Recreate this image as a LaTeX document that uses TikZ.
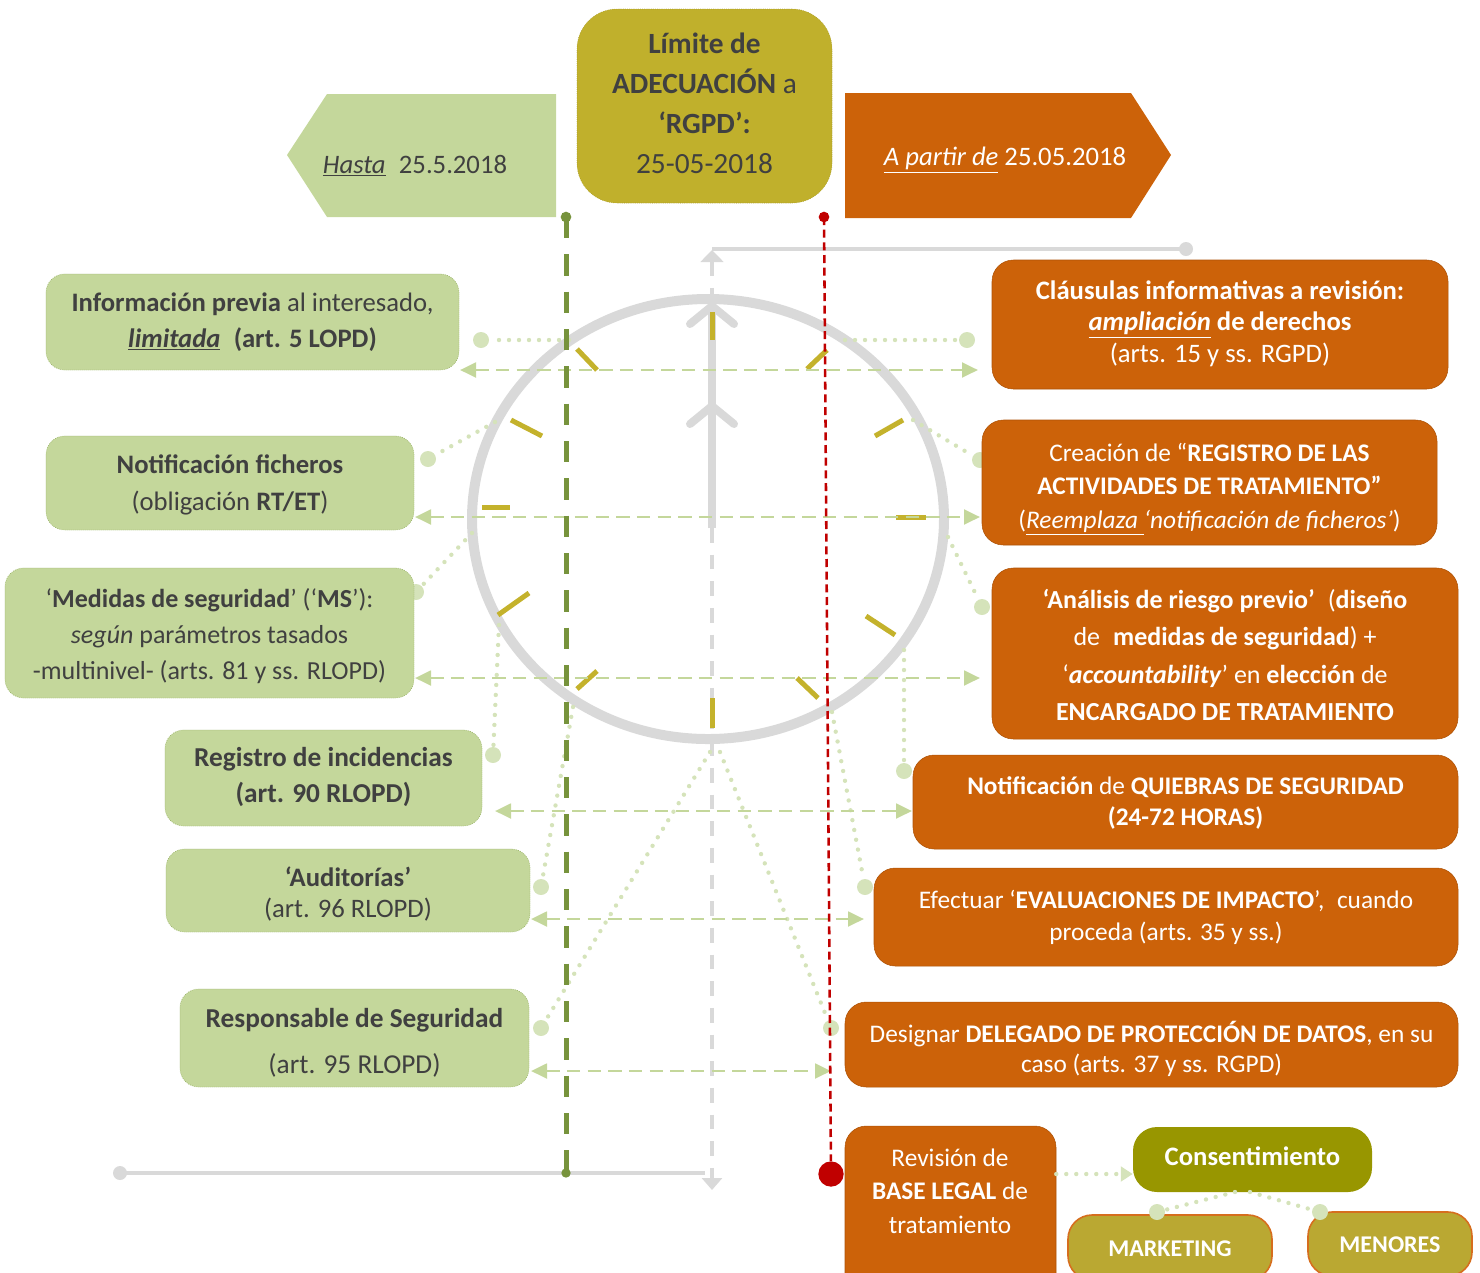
\documentclass[tikz,border=0pt]{standalone}
\usepackage{fontspec}
\setmainfont{Carlito}
\usetikzlibrary{arrows.meta,fit}
\definecolor{lgreen}{RGB}{196,215,155}
\definecolor{lgreenB}{RGB}{150,175,100}
\definecolor{dotc}{RGB}{213,227,186}
\definecolor{olivebox}{RGB}{192,176,44}
\definecolor{tickc}{RGB}{196,178,44}
\definecolor{orng}{RGB}{204,98,9}
\definecolor{consc}{RGB}{152,150,0}
\definecolor{mkc}{RGB}{186,168,50}
\definecolor{mkb}{RGB}{214,110,30}
\definecolor{ggray}{RGB}{217,217,217}
\definecolor{dgreen}{RGB}{119,147,60}
\definecolor{dred}{RGB}{192,0,0}
\definecolor{txt}{RGB}{64,64,64}
\newcommand\fsz[2]{\fontsize{#1}{#2}\selectfont}
\tikzset{
  lbox/.style={fill=lgreen, draw=lgreenB, densely dotted, line width=0.5pt, rounded corners=14pt, inner sep=0pt},
  rbox/.style={fill=orng, draw=orng!85!black, line width=0.4pt, rounded corners=16pt, inner sep=0pt},
  ltext/.style={align=center, text=txt, inner sep=0pt},
  rtext/.style={align=center, text=white, inner sep=0pt},
  enddot/.style={circle, fill=dotc, minimum size=12pt, inner sep=0pt},
  dotline/.style={dotc, line width=3.3pt, dash pattern=on 0pt off 7.5pt, line cap=round},
  darrow/.style={lgreen, line width=2.2pt, dash pattern=on 10pt off 5.5pt, {Triangle[length=12pt,width=11pt]}-{Triangle[length=12pt,width=11pt]}},
  tickm/.style={tickc, line width=3.75pt},
  gdot/.style={circle, fill=ggray, minimum size=10.5pt, inner sep=0pt},
}
\begin{document}
\begin{tikzpicture}[x=0.75pt,y=-0.75pt]
\useasboundingbox (0,0) rectangle (1480,1272);

% ---------- top shapes ----------
\fill[lgreen] (287,155) -- (327,94) -- (556,94) -- (556,217) -- (327,217) -- cycle;
\node[text=txt, font=\fsz{20}{24}] (hasta) at (415,166) {\underline{\textit{Hasta}}\enspace 25.5.2018};
\node[fill=olivebox, draw=olivebox!85!black, densely dotted, line width=0.4pt, rounded corners=30pt, inner sep=0pt, fit={(577,9)(832,203)}] (lim) {};
\node[ltext, font=\fsz{22}{30}] (limt) at (704.5,103)
  {\textbf{Límite de}\\ \textbf{ADECUACIÓN} a\\ \textbf{‘RGPD’:}\\ 25-05-2018};
\fill[orng] (845,93) -- (1131,93) -- (1171,155) -- (1131,218) -- (845,218) -- cycle;
\node[text=white, font=\fsz{20}{24}] (apartir) at (1005,160) {\underline{\textit{A partir de}} 25.05.2018};

% ---------- gray clock ----------
\node[gdot] (gtr) at (1186,249) {};
\coordinate (gtl) at (712,249);
\draw[ggray, line width=3pt] (gtl) -- (gtr.center);
\node[gdot] (gbl) at (120,1173) {};
\coordinate (gbr) at (705,1173);
\draw[ggray, line width=3pt] (gbl.center) -- (gbr);
\coordinate (gvt) at (712,250);
\coordinate (gvb) at (712,1190);
\draw[ggray, line width=3pt, dash pattern=on 11pt off 9pt, {Triangle[length=9pt,width=17pt]}-{Triangle[length=9pt,width=15pt]}] (gvt) -- (gvb);
\coordinate (cc) at (708,519);
\draw[ggray, line width=7.5pt] (cc) ellipse [x radius=177pt, y radius=165pt];
\draw[ggray, line width=6pt] (712,528) -- (712,306);
\draw[ggray, line width=6pt, line cap=round, line join=round] (690,324) -- (712,306) -- (734,324);
\draw[ggray, line width=6pt, line cap=round, line join=round] (690,424) -- (712,406) -- (734,424);
% ticks
\draw[tickm] (712,312) -- (712,340);
\draw[tickm] (807,369) -- (827,350);
\draw[tickm] (875,436) -- (903,420);
\draw[tickm] (896,517) -- (926,517);
\draw[tickm] (866,616) -- (895,635);
\draw[tickm] (797,678) -- (818,698);
\draw[tickm] (712,698) -- (712,728);
\draw[tickm] (577,689) -- (597,671);
\draw[tickm] (498,615) -- (529,593);
\draw[tickm] (482,507) -- (510,507);
\draw[tickm] (511,420) -- (542,436);
\draw[tickm] (577,349) -- (597,370);

% ---------- dotted connectors ----------
\coordinate (rL1) at (569,340); \coordinate (rR1) at (845,340);
\coordinate (rL2) at (495,422); \coordinate (rR2) at (913,420);
\coordinate (rL3) at (472,533); \coordinate (rR3) at (948,537);
\coordinate (rL4) at (499,625); \coordinate (rR4) at (904,650);
\coordinate (rL5) at (573,707); \coordinate (rR5) at (832,712);
\coordinate (rL6) at (710,752); \coordinate (rR6) at (720,752);
\node[enddot] (dL1) at (481,340) {};  \node[enddot] (dR1) at (967,340) {};
\node[enddot] (dL2) at (428,459) {};  \node[enddot] (dR2) at (980,460) {};
\node[enddot] (dL3) at (416,592) {};  \node[enddot] (dR3) at (982,607) {};
\node[enddot] (dL4) at (493,755) {};  \node[enddot] (dR4) at (904,771) {};
\node[enddot] (dL5) at (541,887) {};  \node[enddot] (dR5) at (865,887) {};
\node[enddot] (dL6) at (541,1028) {}; \node[enddot] (dR6) at (831,1028) {};
\foreach \i in {1,...,6}{
  \draw[dotline] (rL\i) -- (dL\i);
  \draw[dotline] (rR\i) -- (dR\i);
}

% ---------- dashed double arrows ----------
\coordinate (a1l) at (460,370);  \coordinate (a1r) at (978,370);
\coordinate (a2l) at (415,517);  \coordinate (a2r) at (980,517);
\coordinate (a3l) at (415,678);  \coordinate (a3r) at (980,678);
\coordinate (a4l) at (495,811);  \coordinate (a4r) at (912,811);
\coordinate (a5l) at (531,919);  \coordinate (a5r) at (864,919);
\coordinate (a6l) at (531,1071); \coordinate (a6r) at (831,1071);
\foreach \i in {1,...,6}{ \draw[darrow] (a\i l) -- (a\i r); }

% ---------- vertical time lines ----------
\node[circle, fill=dgreen, minimum size=8pt, inner sep=0pt] (gt) at (566,217) {};
\node[circle, fill=dgreen, minimum size=7pt, inner sep=0pt] (gb) at (566,1173) {};
\draw[dgreen, line width=3.75pt, dash pattern=on 16pt off 12pt] (gt.center) -- (gb.center);
\node[circle, fill=dred, minimum size=8pt, inner sep=0pt] (rt) at (824,217) {};
\node[circle, fill=dred, minimum size=19pt, inner sep=0pt] (rb) at (831,1174) {};
\draw[dred, line width=1.9pt, dash pattern=on 6pt off 3.5pt] (rt.center) -- (rb);

% ---------- left boxes ----------
\node[lbox, fit={(46,274)(459,370)}] (b1) {};
\node[ltext, font=\fsz{20}{27}] (b1t) at (252.5,322)
  {\textbf{Información previa} al interesado,\\ \textbf{\underline{\textit{limitada}}}\enspace\textbf{(art. 5 LOPD)}};
\node[lbox, fit={(46,436)(414,530)}] (b2) {};
\node[ltext, font=\fsz{20}{27.5}] (b2t) at (230,485)
  {\textbf{Notificación ficheros}\\ (obligación \textbf{RT/ET})};
\node[lbox, fit={(5,568)(414,698)}] (b3) {};
\node[ltext, font=\fsz{19.5}{27}] (b3t) at (209.5,636)
  {‘\textbf{Medidas de seguridad}’ (‘\textbf{MS}’):\\ \textit{según} parámetros tasados\\ -multinivel- (arts. 81 y ss. RLOPD)};
\node[lbox, fit={(165,730)(482,826)}] (b4) {};
\node[ltext, font=\fsz{20.5}{27.5}] (b4t) at (323.5,777)
  {\textbf{Registro de incidencias}\\ \textbf{(art. 90 RLOPD)}};
\node[lbox, fit={(166,849)(530,932)}] (b5) {};
\node[ltext, font=\fsz{20}{23}] (b5t) at (348,894)
  {\textbf{‘Auditorías’}\\ (art. 96 RLOPD)};
\node[lbox, fit={(180,989)(529,1087)}] (b6) {};
\node[ltext, font=\fsz{20.5}{34.5}] (b6t) at (354.5,1043)
  {\textbf{Responsable de Seguridad}\\ (art. 95 RLOPD)};

% ---------- right boxes ----------
\node[rbox, fit={(992,260)(1448,389)}] (r1) {};
\node[rtext, font=\fsz{20}{23.6}] (r1t) at (1220,323.5)
  {\textbf{Cláusulas informativas a revisión:}\\ \textbf{\underline{\textit{ampliación}} de derechos}\\ (arts. 15 y ss. RGPD)};
\node[rbox, fit={(982,420)(1437,545)}] (r2) {};
\node[rtext, font=\fsz{19}{25}] (r2t) at (1209.5,489)
  {Creación de “\textbf{REGISTRO DE LAS}\\ \textbf{ACTIVIDADES DE TRATAMIENTO”}\\ (\underline{\textit{Reemplaza }}\textit{‘notificación de ficheros’})};
\node[rbox, fit={(992,568)(1458,739)}] (r3) {};
\node[rtext, font=\fsz{19.5}{28}] (r3t) at (1225,655)
  {\textbf{‘Análisis de riesgo previo’}\enspace(\textbf{diseño}\\ de\enspace\textbf{medidas de seguridad}) +\\ ‘\textbf{\textit{accountability}}’ en \textbf{elección} de\\ \textbf{ENCARGADO DE TRATAMIENTO}};
\node[rbox, fit={(913,755)(1458,849)}] (r4) {};
\node[rtext, font=\fsz{19}{23}] (r4t) at (1185.5,803)
  {\textbf{Notificación} de \textbf{QUIEBRAS DE SEGURIDAD}\\ \textbf{(24-72 HORAS)}};
\node[rbox, fit={(874,868)(1458,966)}] (r5) {};
\node[rtext, font=\fsz{19}{24}] (r5t) at (1166,917)
  {Efectuar ‘\textbf{EVALUACIONES DE IMPACTO}’,\enspace cuando\\ proceda (arts. 35 y ss.)};
\node[rbox, fit={(845,1002)(1458,1087)}] (r6) {};
\node[rtext, font=\fsz{19}{23}] (r6t) at (1151.5,1049)
  {Designar \textbf{DELEGADO DE PROTECCIÓN DE DATOS}, en su\\ caso (arts. 37 y ss. RGPD)};

% ---------- bottom group ----------
\node[rbox, fit={(845,1126)(1056,1300)}] (rev) {};
\node[rtext, font=\fsz{19}{25}] (revt) at (950,1191)
  {Revisión de\\ \textbf{BASE LEGAL} de\\ tratamiento};
\node[fill=consc, rounded corners=18pt, inner sep=0pt, fit={(1133,1127)(1372,1192)}] (cons) {};
\node[rtext, font=\fsz{20}{24}\bfseries] (const) at (1252.5,1156) {Consentimiento};
\node[fill=mkc, draw=mkb, line width=1.2pt, rounded corners=18pt, inner sep=0pt, fit={(1068,1215)(1272,1280)}] (mk) {};
\node[rtext, font=\fsz{18}{22}\bfseries] (mkt) at (1170,1249) {MARKETING};
\node[fill=mkc, draw=mkb, line width=1.2pt, rounded corners=18pt, inner sep=0pt, fit={(1308,1212)(1472,1276)}] (men) {};
\node[rtext, font=\fsz{18}{22}\bfseries] (ment) at (1390,1245) {MENORES};
\draw[dotline, -{Triangle[length=9pt,width=11pt]}] (rev.east |- 0,1174) -- (cons.west |- 0,1174);
\node[enddot] (dmk) at (1157,1212) {};
\node[enddot] (dmen) at (1320,1212) {};
\coordinate (cs1) at (1235,1192);
\coordinate (cs2) at (1250,1192);
\draw[dotline] (cs1) -- (dmk);
\draw[dotline] (cs2) -- (dmen);
\end{tikzpicture}
\end{document}
